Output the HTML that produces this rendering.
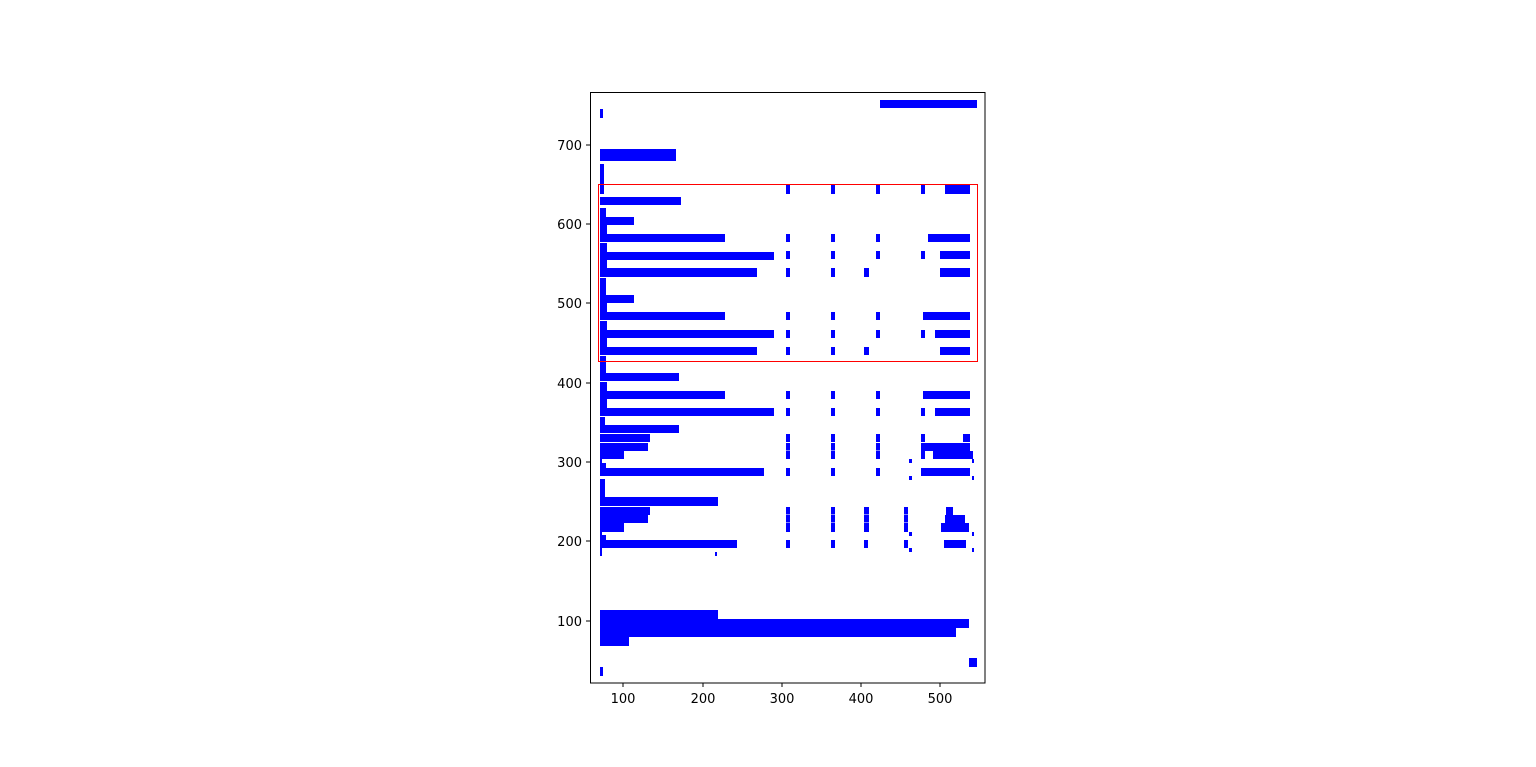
<!DOCTYPE html>
<html><head><meta charset="utf-8"><style>
html,body{margin:0;padding:0;background:#fff;}
svg{display:block;}
text{font-family:"DejaVu Sans","Liberation Sans",sans-serif;font-size:13px;fill:#000;}
</style></head><body>
<svg width="1536" height="767" viewBox="0 0 1536 767" xmlns="http://www.w3.org/2000/svg">
<rect width="1536" height="767" fill="#fff"/>
<g fill="#0000ff">
<rect x="880" y="100" width="97" height="8"/>
<rect x="600" y="109" width="3" height="9"/>
<rect x="600" y="149" width="76" height="12"/>
<rect x="600" y="164" width="4" height="21"/>
<rect x="600" y="185" width="4" height="9"/>
<rect x="786" y="185" width="4" height="9"/><rect x="831" y="185" width="4" height="9"/><rect x="876" y="185" width="4" height="9"/><rect x="921" y="185" width="4" height="9"/><rect x="945" y="185" width="25" height="9"/>
<rect x="600" y="197" width="81" height="8"/>
<rect x="600" y="208" width="6" height="9"/><rect x="600" y="217" width="34" height="8"/>
<rect x="600" y="225" width="7" height="9"/><rect x="600" y="234" width="125" height="8"/>
<rect x="786" y="234" width="4" height="8"/><rect x="831" y="234" width="4" height="8"/><rect x="876" y="234" width="4" height="8"/><rect x="928" y="234" width="42" height="8"/>
<rect x="600" y="243" width="7" height="9"/><rect x="600" y="252" width="174" height="8"/>
<rect x="786" y="251" width="4" height="8"/><rect x="831" y="251" width="4" height="8"/><rect x="876" y="251" width="4" height="8"/><rect x="921" y="251" width="4" height="8"/><rect x="940" y="251" width="30" height="8"/>
<rect x="600" y="260" width="7" height="8"/><rect x="600" y="268" width="157" height="9"/>
<rect x="786" y="268" width="4" height="9"/><rect x="831" y="268" width="4" height="9"/><rect x="864" y="268" width="5" height="9"/><rect x="940" y="268" width="30" height="9"/>
<rect x="600" y="278" width="6" height="17"/><rect x="600" y="295" width="34" height="8"/>
<rect x="600" y="303" width="7" height="9"/><rect x="600" y="312" width="125" height="8"/>
<rect x="786" y="312" width="4" height="8"/><rect x="831" y="312" width="4" height="8"/><rect x="876" y="312" width="4" height="8"/><rect x="923" y="312" width="47" height="8"/>
<rect x="600" y="321" width="7" height="9"/><rect x="600" y="330" width="174" height="8"/>
<rect x="786" y="330" width="4" height="8"/><rect x="831" y="330" width="4" height="8"/><rect x="876" y="330" width="4" height="8"/><rect x="921" y="330" width="4" height="8"/><rect x="935" y="330" width="35" height="8"/>
<rect x="600" y="338" width="7" height="9"/><rect x="600" y="347" width="157" height="8"/>
<rect x="786" y="347" width="4" height="8"/><rect x="831" y="347" width="4" height="8"/><rect x="864" y="347" width="5" height="8"/><rect x="940" y="347" width="30" height="8"/>
<rect x="600" y="356" width="6" height="17"/><rect x="600" y="373" width="79" height="8"/>
<rect x="600" y="382" width="7" height="9"/><rect x="600" y="391" width="125" height="8"/>
<rect x="786" y="391" width="4" height="8"/><rect x="831" y="391" width="4" height="8"/><rect x="876" y="391" width="4" height="8"/><rect x="923" y="391" width="47" height="8"/>
<rect x="600" y="399" width="7" height="9"/><rect x="600" y="408" width="174" height="8"/>
<rect x="786" y="408" width="4" height="8"/><rect x="831" y="408" width="4" height="8"/><rect x="876" y="408" width="4" height="8"/><rect x="921" y="408" width="4" height="8"/><rect x="935" y="408" width="35" height="8"/>
<rect x="600" y="417" width="5" height="8"/><rect x="600" y="425" width="79" height="8"/>
<rect x="600" y="434" width="50" height="8"/>
<rect x="786" y="434" width="4" height="8"/><rect x="831" y="434" width="4" height="8"/><rect x="876" y="434" width="4" height="8"/><rect x="921" y="434" width="4" height="8"/>
<rect x="786" y="443" width="4" height="7.5"/><rect x="831" y="443" width="4" height="7.5"/><rect x="876" y="443" width="4" height="7.5"/>
<rect x="786" y="451" width="4" height="8"/><rect x="831" y="451" width="4" height="8"/><rect x="876" y="451" width="4" height="8"/><rect x="921" y="451" width="4" height="8"/>
<rect x="963" y="434" width="7" height="8"/>
<rect x="600" y="443" width="48" height="8"/><rect x="921" y="443" width="49" height="8"/>
<rect x="600" y="451" width="24" height="8"/><rect x="933" y="451" width="40" height="8"/>
<rect x="909" y="459" width="3" height="4"/><rect x="972" y="459" width="2" height="4"/><rect x="600" y="459" width="2" height="4"/>
<rect x="600" y="463" width="6" height="5"/><rect x="600" y="468" width="164" height="8"/>
<rect x="786" y="468" width="4" height="8"/><rect x="831" y="468" width="4" height="8"/><rect x="876" y="468" width="4" height="8"/><rect x="921" y="468" width="49" height="8"/>
<rect x="909" y="476" width="3" height="4"/><rect x="972" y="476" width="2" height="4"/>
<rect x="600" y="479" width="5" height="18"/><rect x="600" y="497" width="118" height="9"/>
<rect x="600" y="507" width="50" height="8"/>
<rect x="786" y="507" width="4" height="7.5"/><rect x="831" y="507" width="4" height="7.5"/><rect x="864" y="507" width="5" height="7.5"/><rect x="904" y="507" width="4" height="7.5"/>
<rect x="786" y="515" width="4" height="7.5"/><rect x="831" y="515" width="4" height="7.5"/><rect x="864" y="515" width="5" height="7.5"/><rect x="904" y="515" width="4" height="7.5"/>
<rect x="786" y="523" width="4" height="9"/><rect x="831" y="523" width="4" height="9"/><rect x="864" y="523" width="5" height="9"/><rect x="904" y="523" width="4" height="9"/>
<rect x="946" y="507" width="7" height="8"/>
<rect x="600" y="515" width="48" height="8"/><rect x="945" y="515" width="20" height="8"/>
<rect x="600" y="523" width="24" height="9"/><rect x="941" y="523" width="28" height="9"/>
<rect x="909" y="532" width="3" height="4"/><rect x="972" y="532" width="2" height="4"/><rect x="600" y="532" width="2" height="3"/>
<rect x="600" y="535" width="6" height="5"/><rect x="600" y="540" width="137" height="8"/>
<rect x="786" y="540" width="4" height="8"/><rect x="831" y="540" width="4" height="8"/><rect x="864" y="540" width="4" height="8"/><rect x="904" y="540" width="4" height="8"/><rect x="944" y="540" width="22" height="8"/>
<rect x="909" y="548" width="3" height="4"/><rect x="972" y="548" width="2" height="4"/>
<rect x="600" y="548" width="2" height="8"/><rect x="715" y="552" width="2" height="4"/>
<rect x="600" y="610" width="118" height="9"/>
<rect x="600" y="619" width="369" height="9"/>
<rect x="600" y="628" width="356" height="9"/>
<rect x="600" y="637" width="29" height="9"/>
<rect x="969" y="658" width="8" height="9"/>
<rect x="600" y="667" width="3" height="9"/>
</g>
<rect x="598.5" y="184.5" width="379" height="177" fill="none" stroke="#ff0000" stroke-width="1"/>
<rect x="590.5" y="92.5" width="394.5" height="590.5" fill="none" stroke="#000" stroke-width="1"/>
<g stroke="#000" stroke-width="1">
<line x1="623" y1="683" x2="623" y2="687"/><line x1="703" y1="683" x2="703" y2="687"/><line x1="782" y1="683" x2="782" y2="687"/><line x1="861" y1="683" x2="861" y2="687"/><line x1="940" y1="683" x2="940" y2="687"/>
<line x1="586" y1="145" x2="590" y2="145"/><line x1="586" y1="224" x2="590" y2="224"/><line x1="586" y1="303" x2="590" y2="303"/><line x1="586" y1="383" x2="590" y2="383"/><line x1="586" y1="462" x2="590" y2="462"/><line x1="586" y1="541" x2="590" y2="541"/><line x1="586" y1="621" x2="590" y2="621"/>
</g>
<g text-anchor="middle">
<text x="623" y="703">100</text><text x="703" y="703">200</text><text x="782" y="703">300</text><text x="861" y="703">400</text><text x="940" y="703">500</text>
</g>
<g text-anchor="end">
<text x="582" y="150">700</text><text x="582" y="229">600</text><text x="582" y="308">500</text><text x="582" y="388">400</text><text x="582" y="467">300</text><text x="582" y="546">200</text><text x="582" y="626">100</text>
</g>
</svg>
</body></html>
